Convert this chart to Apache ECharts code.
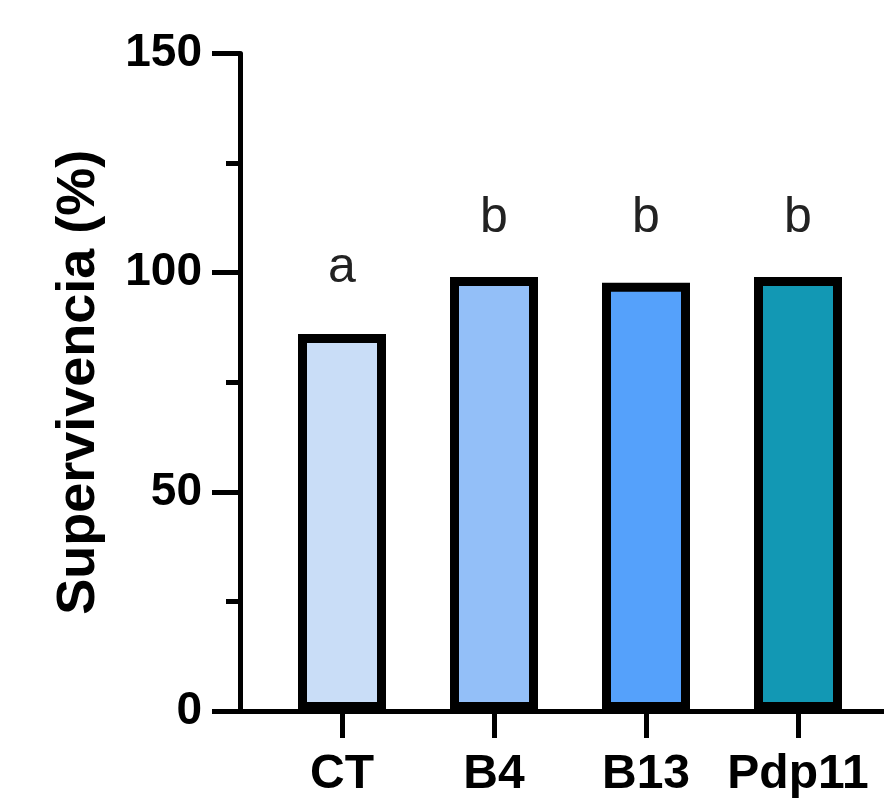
<!DOCTYPE html>
<html>
<head>
<meta charset="utf-8">
<title>Supervivencia</title>
<script src="https://cdn.jsdelivr.net/npm/echarts@6/dist/echarts.min.js"></script>
<style>
  html, body { margin: 0; padding: 0; background: #fff; }
  #chart { width: 884px; height: 800px; }
</style>
</head>
<body>
<div id="chart"></div>
<script>
// Survival per treatment (%)
const categories = ['CT', 'B4', 'B13', 'Pdp11'];
const survival = [86, 99, 97.7, 99];
const letters = ['a', 'b', 'b', 'b'];
const barColors = ['#C9DDF7', '#93BFF8', '#55A1FB', '#1298B4'];
const yTicks = [0, 50, 100, 150];

// space between bar top and its significance letter (style only)
const letterGap = [41, 34, 40, 34];

const FONT = "'Liberation Sans', Arial, sans-serif";
const INK = '#000';

const chart = echarts.init(document.getElementById('chart'), null, { renderer: 'canvas' });

const barData = survival.map((v, i) => ({
  value: v,
  itemStyle: { color: barColors[i] },
  label: { formatter: letters[i], distance: letterGap[i] }
}));

chart.setOption({
  animation: false,
  backgroundColor: '#fff',
  grid: [
    { left: 266, right: 10, top: 53.5, bottom: 89 },
    { left: 240, right: 0, top: 53.5, bottom: 89 }
  ],
  xAxis: [
    {
      type: 'category',
      gridIndex: 0,
      data: categories,
      axisLine: { show: false },
      axisTick: { show: true, alignWithLabel: true, length: 27, lineStyle: { color: INK, width: 5 } },
      axisLabel: { interval: 0, color: INK, fontFamily: FONT, fontWeight: 'bold', fontSize: 48, margin: 40 }
    },
    {
      type: 'value',
      gridIndex: 1,
      min: 0, max: 1,
      axisLine: { show: true, lineStyle: { color: INK, width: 5 } },
      axisTick: { show: false },
      axisLabel: { show: false },
      splitLine: { show: false }
    }
  ],
  yAxis: [
    {
      type: 'value',
      gridIndex: 0,
      min: yTicks[0],
      max: yTicks[yTicks.length - 1],
      interval: yTicks[1] - yTicks[0],
      offset: 26,
      name: 'Supervivencia (%)',
      nameLocation: 'middle',
      nameGap: 134,
      nameTextStyle: { color: INK, fontFamily: FONT, fontWeight: 'bold', fontSize: 54 },
      axisLine: { show: true, lineStyle: { color: INK, width: 5 } },
      axisTick: { show: true, length: 28, lineStyle: { color: INK, width: 5 } },
      minorTick: { show: true, splitNumber: 2, length: 14, lineStyle: { color: INK, width: 5 } },
      axisLabel: { color: INK, fontFamily: FONT, fontWeight: 'bold', fontSize: 46, margin: 38 },
      splitLine: { show: false }
    },
    {
      type: 'value',
      gridIndex: 1,
      min: 0, max: 1,
      show: false
    }
  ],
  series: [
    {
      type: 'bar',
      xAxisIndex: 0,
      yAxisIndex: 0,
      data: barData,
      barWidth: 88,
      itemStyle: { borderColor: INK, borderWidth: 9 },
      label: {
        show: true,
        position: 'top',
        color: '#222',
        fontFamily: FONT,
        fontSize: 50
      }
    }
  ]
});
</script>
</body>
</html>
